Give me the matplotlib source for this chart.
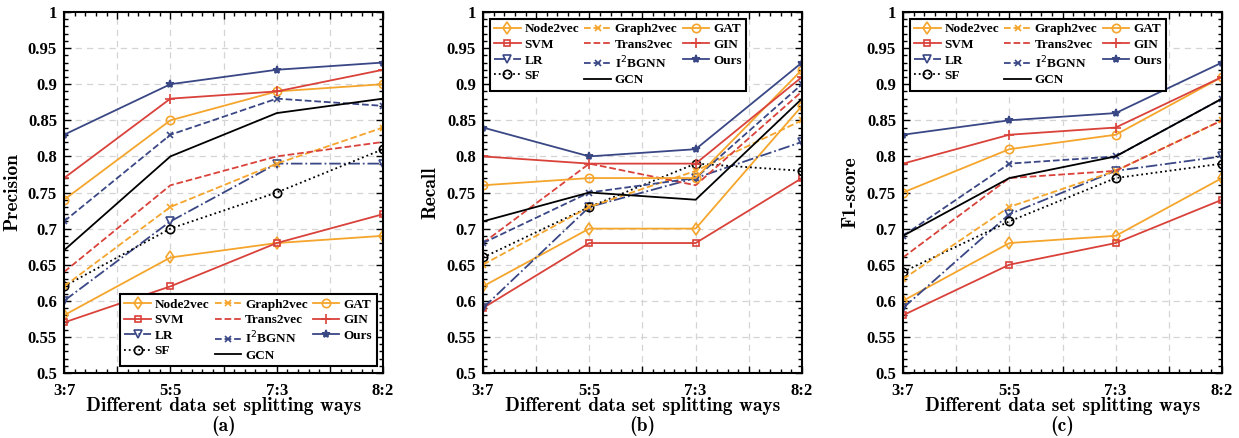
import matplotlib
matplotlib.use("Agg")
import matplotlib.pyplot as plt
from matplotlib.ticker import MultipleLocator, FixedLocator

# data
splits = ["3:7", "5:5", "7:3", "8:2"]
methods = ["Node2vec", "SVM", "LR", "SF", "Graph2vec", "Trans2vec",
           "I$^2$BGNN", "GCN", "GAT", "GIN", "Ours"]

precision = {
    "Node2vec": [0.58, 0.66, 0.68, 0.69],
    "SVM": [0.57, 0.62, 0.68, 0.72],
    "LR": [0.60, 0.71, 0.79, 0.79],
    "SF": [0.62, 0.70, 0.75, 0.81],
    "Graph2vec": [0.62, 0.73, 0.79, 0.84],
    "Trans2vec": [0.64, 0.76, 0.80, 0.82],
    "I$^2$BGNN": [0.71, 0.83, 0.88, 0.87],
    "GCN": [0.67, 0.80, 0.86, 0.88],
    "GAT": [0.74, 0.85, 0.89, 0.90],
    "GIN": [0.77, 0.88, 0.89, 0.92],
    "Ours": [0.83, 0.90, 0.92, 0.93],
}
recall = {
    "Node2vec": [0.62, 0.70, 0.70, 0.87],
    "SVM": [0.59, 0.68, 0.68, 0.77],
    "LR": [0.59, 0.73, 0.77, 0.82],
    "SF": [0.66, 0.73, 0.79, 0.78],
    "Graph2vec": [0.65, 0.73, 0.78, 0.85],
    "Trans2vec": [0.68, 0.79, 0.76, 0.89],
    "I$^2$BGNN": [0.68, 0.75, 0.77, 0.90],
    "GCN": [0.71, 0.75, 0.74, 0.88],
    "GAT": [0.76, 0.77, 0.77, 0.92],
    "GIN": [0.80, 0.79, 0.79, 0.91],
    "Ours": [0.84, 0.80, 0.81, 0.93],
}
f1 = {
    "Node2vec": [0.60, 0.68, 0.69, 0.77],
    "SVM": [0.58, 0.65, 0.68, 0.74],
    "LR": [0.59, 0.72, 0.78, 0.80],
    "SF": [0.64, 0.71, 0.77, 0.79],
    "Graph2vec": [0.63, 0.73, 0.78, 0.85],
    "Trans2vec": [0.66, 0.77, 0.78, 0.85],
    "I$^2$BGNN": [0.69, 0.79, 0.80, 0.88],
    "GCN": [0.69, 0.77, 0.80, 0.88],
    "GAT": [0.75, 0.81, 0.83, 0.91],
    "GIN": [0.79, 0.83, 0.84, 0.91],
    "Ours": [0.83, 0.85, 0.86, 0.93],
}

orange = "#F5A52C"
red = "#D9423A"
navy = "#3A4785"
styles = {
    "Node2vec": dict(color=orange, ls="-", marker="d", mfc="none", ms=6),
    "SVM": dict(color=red, ls="-", marker="s", mfc="none", ms=5),
    "LR": dict(color=navy, ls="-.", marker="v", mfc="none", ms=6),
    "SF": dict(color="black", ls=":", marker="o", mfc="none", ms=6),
    "Graph2vec": dict(color=orange, ls="--", marker="x", ms=5),
    "Trans2vec": dict(color=red, ls="--", marker=None),
    "I$^2$BGNN": dict(color=navy, ls="--", marker="x", ms=5),
    "GCN": dict(color="black", ls="-", marker=None),
    "GAT": dict(color=orange, ls="-", marker="o", mfc="none", ms=6),
    "GIN": dict(color=red, ls="-", marker="+", ms=7),
    "Ours": dict(color=navy, ls="-", marker="*", ms=6),
}

panels = [(precision, "Precision", "(a)", "lower right"),
          (recall, "Recall", "(b)", "upper left"),
          (f1, "F1-score", "(c)", "upper left")]
lefts = [0.0517, 0.3898, 0.7288]

fig = plt.figure(figsize=(12.39, 4.38), dpi=100)
tick_font = dict(family="Liberation Serif", weight="bold", size=12)
label_font = dict(family="cmb10", size=14)

for (data, ylabel, tag, loc), left in zip(panels, lefts):
    ax = fig.add_axes([left, 0.1484, 0.2575, 0.8242])
    x = list(range(len(splits)))
    for m in methods:
        ax.plot(x, data[m], lw=1.3, mew=1.2, label=m, **styles[m])
    ax.xaxis.set_major_locator(FixedLocator([0, 0.5, 1, 1.5, 2, 2.5, 3]))
    ax.set_xticklabels(["3:7", "", "5:5", "", "7:3", "", "8:2"], fontdict=tick_font)
    ax.xaxis.set_minor_locator(MultipleLocator(0.1))
    yt = [0.5 + 0.05 * i for i in range(11)]
    ax.set_yticks(yt)
    ax.set_yticklabels([("%.2f" % v).rstrip("0").rstrip(".") for v in yt], fontdict=tick_font)
    ax.yaxis.set_minor_locator(MultipleLocator(0.01))
    ax.set_xlim(0, 3)
    ax.set_ylim(0.5, 1.0)
    ax.tick_params(which="both", direction="in", top=True, right=True, width=1.0)
    ax.tick_params(which="major", length=5)
    ax.tick_params(axis="x", which="major", pad=7)
    ax.tick_params(axis="y", which="major", pad=5)
    ax.tick_params(which="minor", length=3)
    ax.grid(True, ls=(0, (5, 4)), color="#d4d4d4", lw=0.9)
    for s in ax.spines.values():
        s.set_linewidth(1.5)
    ax.set_xlabel("Different data set splitting ways", labelpad=-1, **label_font)
    ax.set_ylabel(ylabel, labelpad=5, **label_font)
    ax.text(0.5, -0.12, tag, transform=ax.transAxes, ha="center", va="top", **label_font)
    leg = ax.legend(loc=loc, ncol=3, prop=dict(family="Liberation Serif", weight="bold", size=9.5),
                    handlelength=2.0, columnspacing=0.4, handletextpad=0.3, labelspacing=0.25,
                    borderpad=0.35, borderaxespad=0.5, fancybox=False, edgecolor="black",
                    framealpha=1)
    leg.get_frame().set_linewidth(1.5)

fig.savefig("out.png", dpi=100)
